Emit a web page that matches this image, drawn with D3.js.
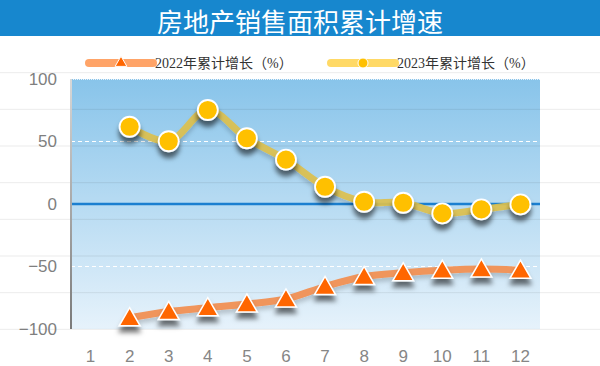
<!DOCTYPE html>
<html>
<head>
<meta charset="utf-8">
<script src="https://d3js.org/d3.v7.min.js"></script>
<style>
  body { margin: 0; background: #fff; }
  svg { display: block; }
</style>
</head>
<body>
<svg id="chart" width="600" height="366"></svg>
<script>
// chart data
const title = "房地产销售面积累计增速";
const months = ["1", "2", "3", "4", "5", "6", "7", "8", "9", "10", "11", "12"];
const seriesNames = ["2022年累计增长（%）", "2023年累计增长（%）"];
const growth2022 = [null, -91, -86, -83, -80, -76, -66, -58, -55, -53, -52, -53];
const growth2023 = [null, 61.8, 50.2, 75.2, 52.6, 35.5, 13.8, 1.8, 1.0, -7.5, -4.3, -0.3];
const yTicks = [-100, -50, 0, 50, 100];

const width = 600, height = 366;
const plot = { left: 71, right: 540, top: 79, bottom: 329 };

const svg = d3.select("#chart");
const defs = svg.append("defs");

// plot gradient
const grad = defs.append("linearGradient")
  .attr("id", "plotBg").attr("x1", 0).attr("y1", 0).attr("x2", 0).attr("y2", 1);
grad.append("stop").attr("offset", "0%").attr("stop-color", "#88c4ea");
grad.append("stop").attr("offset", "100%").attr("stop-color", "#e6f2fb");

const axisGrad = defs.append("linearGradient")
  .attr("id", "axisBg").attr("x1", 0).attr("y1", 0).attr("x2", 0).attr("y2", 1);
axisGrad.append("stop").attr("offset", "0%").attr("stop-color", "#d8d8d8");
axisGrad.append("stop").attr("offset", "100%").attr("stop-color", "#7a7a7a");

// drop shadow for markers
const shadow = defs.append("filter").attr("id", "shadow")
  .attr("x", "-50%").attr("y", "-50%").attr("width", "200%").attr("height", "220%");
shadow.append("feDropShadow")
  .attr("dx", 0).attr("dy", 6).attr("stdDeviation", 2.6)
  .attr("flood-color", "#000").attr("flood-opacity", 0.55);

const lineShadow = defs.append("filter").attr("id", "lineShadow")
  .attr("x", "-10%").attr("y", "-50%").attr("width", "120%").attr("height", "200%");
lineShadow.append("feDropShadow")
  .attr("dx", 0).attr("dy", 4).attr("stdDeviation", 2)
  .attr("flood-color", "#000").attr("flood-opacity", 0.18);

// title bar
svg.append("rect")
  .attr("x", 0).attr("y", 0).attr("width", width).attr("height", 36)
  .attr("fill", "#1787ce");
svg.append("text")
  .attr("x", width / 2).attr("y", 20)
  .attr("text-anchor", "middle")
  .attr("dominant-baseline", "central")
  .style("font-family", "'Noto Sans CJK SC', sans-serif")
  .style("font-size", "26px")
  .style("font-weight", 400)
  .attr("fill", "#fff")
  .text(title);

// scales
const x = d3.scaleBand().domain(months).range([plot.left, plot.right]);
const y = d3.scaleLinear().domain([-100, 100]).range([plot.bottom, plot.top]);
const bgRows = d3.scaleLinear().domain([0, 9]).range([36, height]);

// plot area background
svg.append("rect")
  .attr("x", plot.left).attr("y", plot.top)
  .attr("width", plot.right - plot.left).attr("height", plot.bottom - plot.top)
  .attr("fill", "url(#plotBg)");

// page rule lines
svg.append("g").selectAll("line")
  .data(d3.range(1, 9))
  .join("line")
  .attr("x1", 0).attr("x2", width)
  .attr("y1", d => bgRows(d)).attr("y2", d => bgRows(d))
  .attr("stroke", "#000").attr("stroke-opacity", 0.08);

// dotted top border
svg.append("line")
  .attr("x1", plot.left).attr("x2", plot.right)
  .attr("y1", plot.top + 0.5).attr("y2", plot.top + 0.5)
  .attr("stroke", "#e8f2fa").attr("stroke-dasharray", "1,1");

// dashed white lines at +-50
svg.append("g").selectAll("line")
  .data(yTicks.filter(d => Math.abs(d) === 50))
  .join("line")
  .attr("x1", plot.left).attr("x2", plot.right)
  .attr("y1", d => y(d)).attr("y2", d => y(d))
  .attr("stroke", "#fff").attr("stroke-dasharray", "4,3");

// zero line
svg.append("line")
  .attr("x1", plot.left).attr("x2", plot.right)
  .attr("y1", y(0)).attr("y2", y(0))
  .attr("stroke", "#1b7fd0").attr("stroke-width", 2.5);

// left axis bar
svg.append("rect")
  .attr("x", plot.left - 1).attr("y", plot.top)
  .attr("width", 2).attr("height", plot.bottom - plot.top)
  .attr("fill", "url(#axisBg)");

// y tick labels
svg.append("g").selectAll("text")
  .data(yTicks)
  .join("text")
  .attr("x", 57).attr("y", d => y(d))
  .attr("text-anchor", "end")
  .attr("dominant-baseline", "central")
  .style("font-family", "'Liberation Sans', Arial, sans-serif")
  .style("font-size", "17px")
  .attr("fill", "#7f7f7f")
  .text(d => d < 0 ? "\u2212" + Math.abs(d) : d);

// x tick labels
svg.append("g").selectAll("text")
  .data(months)
  .join("text")
  .attr("x", d => x(d) + x.bandwidth() / 2).attr("y", 356)
  .attr("text-anchor", "middle")
  .attr("dominant-baseline", "central")
  .style("font-family", "'Liberation Sans', Arial, sans-serif")
  .style("font-size", "17px")
  .attr("fill", "#868686")
  .text(d => d);

// lines
const line = d3.line()
  .defined(d => d.v !== null)
  .x(d => x(d.m) + x.bandwidth() / 2)
  .y(d => y(d.v))
  .curve(d3.curveCatmullRom.alpha(0.5));

const data2022 = months.map((m, i) => ({ m, v: growth2022[i] }));
const data2023 = months.map((m, i) => ({ m, v: growth2023[i] }));

svg.append("path")
  .datum(data2022)
  .attr("d", line)
  .attr("fill", "none")
  .attr("stroke", "#f0955c")
  .attr("stroke-width", 7)
  .attr("filter", "url(#lineShadow)");

svg.append("path")
  .datum(data2023)
  .attr("d", line)
  .attr("fill", "none")
  .attr("stroke", "#dcc04e")
  .attr("stroke-opacity", 0.92)
  .attr("stroke-width", 7)
  .attr("filter", "url(#lineShadow)");

// markers
svg.append("g").selectAll("path")
  .data(data2022.filter(d => d.v !== null))
  .join("path")
  .attr("d", d3.symbol(d3.symbolTriangle).size(190))
  .attr("transform", d => `translate(${x(d.m) + x.bandwidth() / 2},${y(d.v) + 2})`)
  .attr("fill", "#ff6600")
  .attr("stroke", "#fff")
  .attr("stroke-width", 1.5)
  .attr("filter", "url(#shadow)");

svg.append("g").selectAll("circle")
  .data(data2023.filter(d => d.v !== null))
  .join("circle")
  .attr("cx", d => x(d.m) + x.bandwidth() / 2)
  .attr("cy", d => y(d.v))
  .attr("r", 10)
  .attr("fill", "#ffc000")
  .attr("stroke", "#fff")
  .attr("stroke-width", 1.8)
  .attr("filter", "url(#shadow)");

// legend
const legendX = [89, 331];
const legendLine = ["#ffa468", "#ffd966"];
const legend = svg.append("g").selectAll("g")
  .data(seriesNames)
  .join("g")
  .attr("transform", (d, i) => `translate(${legendX[i]},63)`);

legend.append("line")
  .attr("x1", 0).attr("x2", 64)
  .attr("stroke", (d, i) => legendLine[i])
  .attr("stroke-width", 8)
  .attr("stroke-linecap", "round");

legend.filter((d, i) => i === 0).append("path")
  .attr("d", d3.symbol(d3.symbolTriangle).size(60))
  .attr("transform", "translate(32,0)")
  .attr("fill", "#ff6600")
  .attr("stroke", "#fff");

legend.filter((d, i) => i === 1).append("circle")
  .attr("cx", 32).attr("r", 5)
  .attr("fill", "#ffc000")
  .attr("stroke", "#fff");

legend.append("text")
  .attr("x", 66)
  .attr("dominant-baseline", "central")
  .style("font-family", "'Liberation Serif', 'Noto Sans CJK SC', serif")
  .style("font-size", "14px")
  .attr("fill", "#333")
  .text(d => d);
</script>
</body>
</html>
